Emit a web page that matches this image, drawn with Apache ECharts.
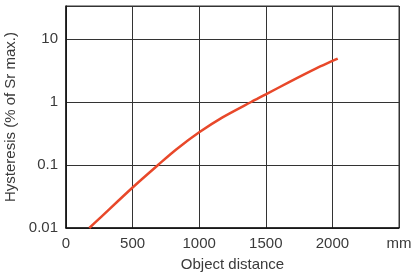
<!DOCTYPE html>
<html>
<head>
<meta charset="utf-8">
<script src="https://cdn.jsdelivr.net/npm/echarts@6/dist/echarts.min.js"></script>
<style>
  html, body { margin: 0; padding: 0; background: #fff; }
  #chart { width: 415px; height: 278px; }
</style>
</head>
<body>
<div id="chart"></div>
<script>
// object distance (mm) and hysteresis (% of Sr max.)
var distance = [175, 250, 500, 700, 825, 1000, 1175, 1390, 1500, 1675, 1875, 2000, 2040]
var hysteresis = [0.01, 0.0141, 0.044, 0.104, 0.175, 0.33, 0.57, 1.0, 1.32, 2.07, 3.39, 4.48, 4.9]
var xTicks = [0, 500, 1000, 1500, 2000, 2500]
var yTicks = [0.01, 0.1, 1, 10]

var points = distance.map(function (d, i) { return [d, hysteresis[i]] })

var textColor = '#3a3a3a'
var gridColor = '#333'

var chart = echarts.init(document.getElementById('chart'))
chart.setOption({
  animation: false,
  grid: {
    left: 66,
    right: 16,
    top: 6,
    bottom: 50,
    containLabel: false,
    outerBoundsMode: 'none',
    show: true,
    borderColor: gridColor,
    borderWidth: 1
  },
  xAxis: {
    type: 'value',
    min: xTicks[0],
    max: xTicks[xTicks.length - 1],
    interval: 500,
    name: 'Object distance',
    nameLocation: 'middle',
    nameGap: 29,
    nameTextStyle: { fontFamily: 'Liberation Sans', fontSize: 15, color: textColor },
    axisLine: { lineStyle: { color: '#111', width: 1.5 } },
    axisTick: { show: false },
    axisLabel: {
      margin: 8,
      fontFamily: 'Liberation Sans',
      fontSize: 15,
      color: textColor,
      formatter: function (v) { return v === 2500 ? 'mm' : String(v) }
    },
    splitLine: { show: true, showMaxLine: true, lineStyle: { color: gridColor, width: 1 } }
  },
  yAxis: {
    type: 'log',
    logBase: 10,
    min: yTicks[0],
    max: 33.4,
    name: 'Hysteresis (% of Sr max.)',
    nameLocation: 'middle',
    nameGap: 46,
    nameTextStyle: { fontFamily: 'Liberation Sans', fontSize: 15, color: textColor },
    axisLine: { lineStyle: { color: '#111', width: 1.5 } },
    axisTick: { show: false },
    axisLabel: {
      margin: 8,
      fontFamily: 'Liberation Sans',
      fontSize: 15,
      color: textColor,
      showMaxLabel: false,
      formatter: function (v) {
        var hit = yTicks.filter(function (t) { return Math.abs(t - v) / t < 1e-6 })
        return hit.length ? String(hit[0]) : ''
      }
    },
    splitLine: { show: true, showMaxLine: true, lineStyle: { color: gridColor, width: 1 } }
  },
  series: [{
    type: 'line',
    data: points,
    smooth: 0.3,
    showSymbol: false,
    lineStyle: { color: '#e8482a', width: 2.5 }
  }]
})
</script>
</body>
</html>
